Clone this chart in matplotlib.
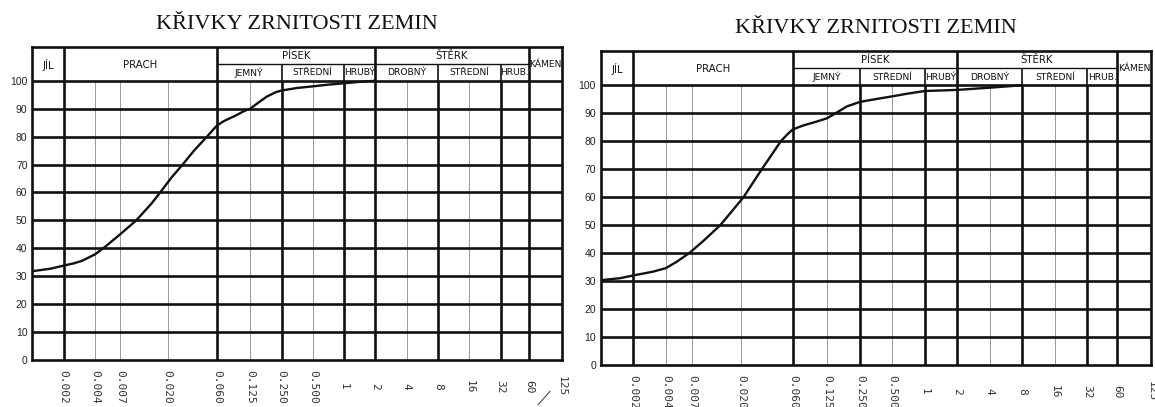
import matplotlib
matplotlib.use("Agg")
import matplotlib.pyplot as plt
from matplotlib.ticker import NullLocator

# Grain size distribution, sample 1 (grain size in mm, % passing)
size_1 = [0.001, 0.0015, 0.002, 0.0025, 0.003, 0.004, 0.005, 0.007, 0.010,
          0.014, 0.017, 0.022, 0.028, 0.036, 0.048, 0.055, 0.060, 0.070,
          0.090, 0.110, 0.125, 0.15, 0.18, 0.22, 0.25, 0.35, 0.5, 0.7,
          1.0, 1.4, 2.0]
pass_1 = [31.8, 32.7, 33.8, 34.6, 35.5, 37.8, 40.5, 45.0, 50.0,
          56.0, 60.0, 65.5, 70.0, 75.0, 80.0, 82.5, 84.0, 85.6,
          87.5, 89.2, 90.0, 92.2, 94.3, 95.9, 96.5, 97.4, 98.0, 98.6,
          99.1, 99.6, 100.0]

# Grain size distribution, sample 2
size_2 = [0.001, 0.0015, 0.002, 0.003, 0.004, 0.005, 0.0066, 0.009, 0.0128,
          0.016, 0.021, 0.026, 0.031, 0.038, 0.0465, 0.054, 0.060, 0.075,
          0.10, 0.125, 0.15, 0.19, 0.25, 0.35, 0.5, 0.7, 1.0, 2.0, 4.0,
          6.0, 8.0]
pass_2 = [30.3, 31.0, 32.0, 33.3, 34.6, 36.8, 40.0, 44.5, 50.0,
          54.5, 60.0, 65.5, 70.0, 75.0, 80.0, 82.6, 84.2, 85.6,
          87.0, 88.2, 90.0, 92.4, 94.0, 95.0, 96.0, 97.0, 97.9, 98.3, 99.1,
          99.6, 100.0]

TITLE = "KŘIVKY ZRNITOSTI ZEMIN"

tick_sizes = [0.002, 0.004, 0.007, 0.020, 0.060, 0.125, 0.250, 0.500,
              1, 2, 4, 8, 16, 32, 60, 125]
tick_labels = ["0.002", "0.004", "0.007", "0.020", "0.060", "0.125", "0.250",
               "0.500", "1", "2", "4", "8", "16", "32", "60", "125"]
major_lines = [0.002, 0.060, 0.250, 1, 2, 8, 32, 60]
minor_lines = [0.004, 0.007, 0.020, 0.125, 0.500, 4, 16]
pct_ticks = list(range(0, 101, 10))

# soil classes (label, from mm, to mm)
main_classes = [("JÍL", 0.001, 0.002), ("PRACH", 0.002, 0.060),
                ("PÍSEK", 0.060, 2), ("ŠTĚRK", 2, 60), ("KÁMEN", 60, 125)]
sub_classes = [("JEMNÝ", 0.060, 0.250), ("STŘEDNÍ", 0.250, 1),
               ("HRUBÝ", 1, 2), ("DROBNÝ", 2, 8), ("STŘEDNÍ", 8, 32),
               ("HRUB.", 32, 60)]

X_MIN, X_MAX = 0.001, 125
Y_TOP = 112.2      # top of the class header
Y_SPLIT = 106.0    # line between class and sub-class rows

INK = "#111111"
THICK = 1.9
THIN = 0.7
HEAD_FONT = ["Liberation Sans Narrow", "DejaVu Sans"]


def draw_panel(ax, sizes, passing, leader=False):
    ax.set_xscale("log")
    ax.set_xlim(X_MIN, X_MAX)
    ax.set_ylim(0, Y_TOP)

    # grid inside the chart area
    ax.vlines(minor_lines, 0, 100, color="#9a9a9a", linewidth=THIN, zorder=1)
    ax.vlines(major_lines, 0, 100, color=INK, linewidth=THICK, zorder=2)
    ax.hlines(pct_ticks[1:], X_MIN, X_MAX, color=INK, linewidth=THICK, zorder=2)

    # class header above 100 %
    split_classes = {"PÍSEK", "ŠTĚRK"}
    for name, lo, hi in main_classes:
        if lo > X_MIN:
            ax.vlines(lo, 100, Y_TOP, color=INK, linewidth=THICK, zorder=2)
        y = 109.0 if name in split_classes else 105.8
        size = 6.6 if name == "KÁMEN" else 7.3
        ax.text((lo * hi) ** 0.5, y, name, ha="center", va="center",
                fontsize=size, family=HEAD_FONT, color=INK)
    ax.hlines(Y_SPLIT, 0.060, 60, color=INK, linewidth=1.0, zorder=2)
    for name, lo, hi in sub_classes:
        if lo not in (0.060, 2):
            ax.vlines(lo, 100, Y_SPLIT, color=INK, linewidth=1.2, zorder=2)
        ax.text((lo * hi) ** 0.5, 102.9, name, ha="center", va="center",
                fontsize=6.6, family=HEAD_FONT, color=INK)

    # grading curve
    ax.plot(sizes, passing, color=INK, linewidth=1.7, zorder=3,
            solid_capstyle="round", solid_joinstyle="round")

    for spine in ax.spines.values():
        spine.set_linewidth(THICK)
        spine.set_color(INK)

    ax.set_yticks(pct_ticks)
    ax.set_yticklabels([str(v) for v in pct_ticks], fontsize=7.5,
                       family="Liberation Sans", color="#222222")
    ax.xaxis.set_minor_locator(NullLocator())
    ax.set_xticks(tick_sizes)
    ax.set_xticklabels(tick_labels, rotation=270, va="center", ha="center",
                       fontsize=8, family="DejaVu Sans Mono", color="#333333")
    ax.tick_params(axis="y", length=0, pad=3.5)
    ax.tick_params(axis="x", length=0, pad=19)

    if leader:
        # short leader stroke under the last size label
        ax.annotate("", xy=(0.951, -0.150), xytext=(0.981, -0.093),
                    xycoords="axes fraction", textcoords="axes fraction",
                    annotation_clip=False,
                    arrowprops=dict(arrowstyle="-", color="#333333", lw=0.7))

    ax.set_title(TITLE, fontsize=16, family="Liberation Serif",
                 color=INK, pad=13)


W, H = 1155, 407
fig = plt.figure(figsize=(W / 100, H / 100), dpi=100)
ax1 = fig.add_axes([32.3 / W, 1 - 360 / H, 529.7 / W, 313.3 / H])
ax2 = fig.add_axes([600.8 / W, 1 - 365 / H, 550.5 / W, 314.0 / H])

draw_panel(ax1, size_1, pass_1, leader=True)
draw_panel(ax2, size_2, pass_2)

fig.savefig("out.png", dpi=100)
